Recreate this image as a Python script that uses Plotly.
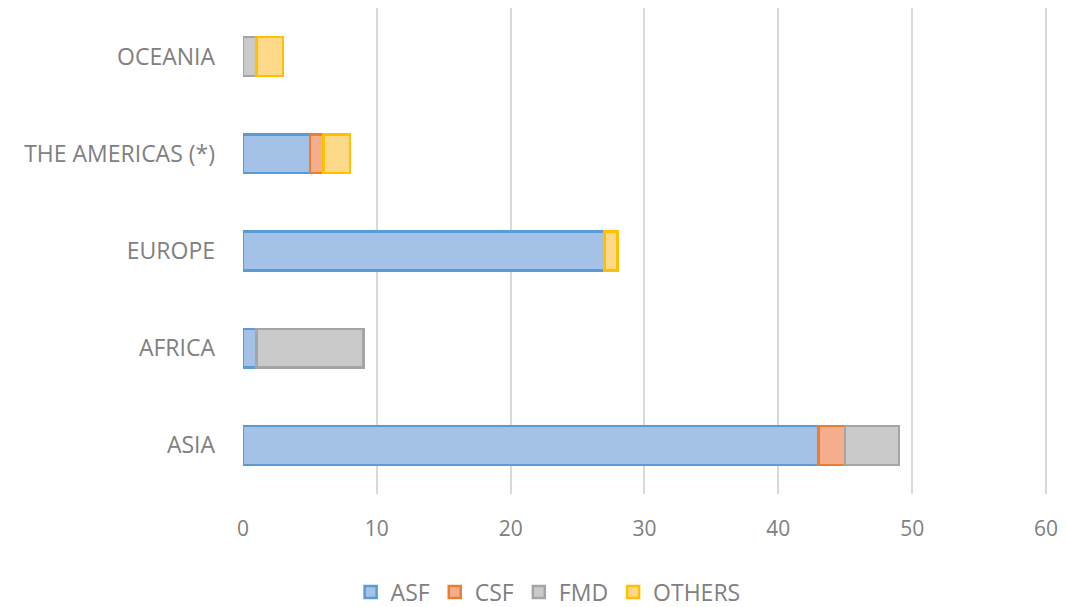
import plotly.graph_objects as go

regions = ["ASIA", "AFRICA", "EUROPE", "THE AMERICAS (*)", "OCEANIA"]
asf = [43, 1, 27, 5, 0]
csf = [2, 0, 0, 1, 0]
fmd = [4, 8, 0, 0, 1]
others = [0, 0, 1, 2, 2]

series = [
    ("ASF", asf, "#A4C2E8", "#5B9BD5"),
    ("CSF", csf, "#F5AE8C", "#ED7D31"),
    ("FMD", fmd, "#CACACA", "#A5A5A5"),
    ("OTHERS", others, "#FFD98A", "#FFC000"),
]

fig = go.Figure()
for name, vals, fill, line in series:
    fig.add_trace(go.Bar(
        y=regions, x=[v if v else None for v in vals], name=name, orientation="h",
        marker=dict(color=fill, line=dict(color=line, width=2.5)),
        width=0.4,
    ))

fam = "'Open Sans', sans-serif"
gray = "#808080"
fig.update_layout(
    barmode="stack",
    width=1059, height=599,
    margin=dict(l=235, r=17, t=0, b=113),
    plot_bgcolor="white", paper_bgcolor="white",
    font=dict(family=fam, size=22, color=gray),
    legend=dict(orientation="h", xref="container", x=0.51, xanchor="center",
                yref="container", y=0.025, yanchor="middle",
                font=dict(family=fam, size=23, color=gray),
                traceorder="normal", itemwidth=30),
    xaxis=dict(range=[0, 60.3], tickvals=[0, 10, 20, 30, 40, 50, 60], showgrid=True,
               gridcolor="#D9D9D9", gridwidth=1.5,
               zeroline=False, showline=False, ticklabelstandoff=20,
               tickfont=dict(family=fam, size=21, color=gray), automargin=False),
    yaxis=dict(showgrid=False, zeroline=False, showline=False, ticklabelstandoff=27,
               tickfont=dict(family=fam, size=23, color=gray), range=[-0.5, 4.5],
               automargin=False),
)
fig.write_html("out.html")
